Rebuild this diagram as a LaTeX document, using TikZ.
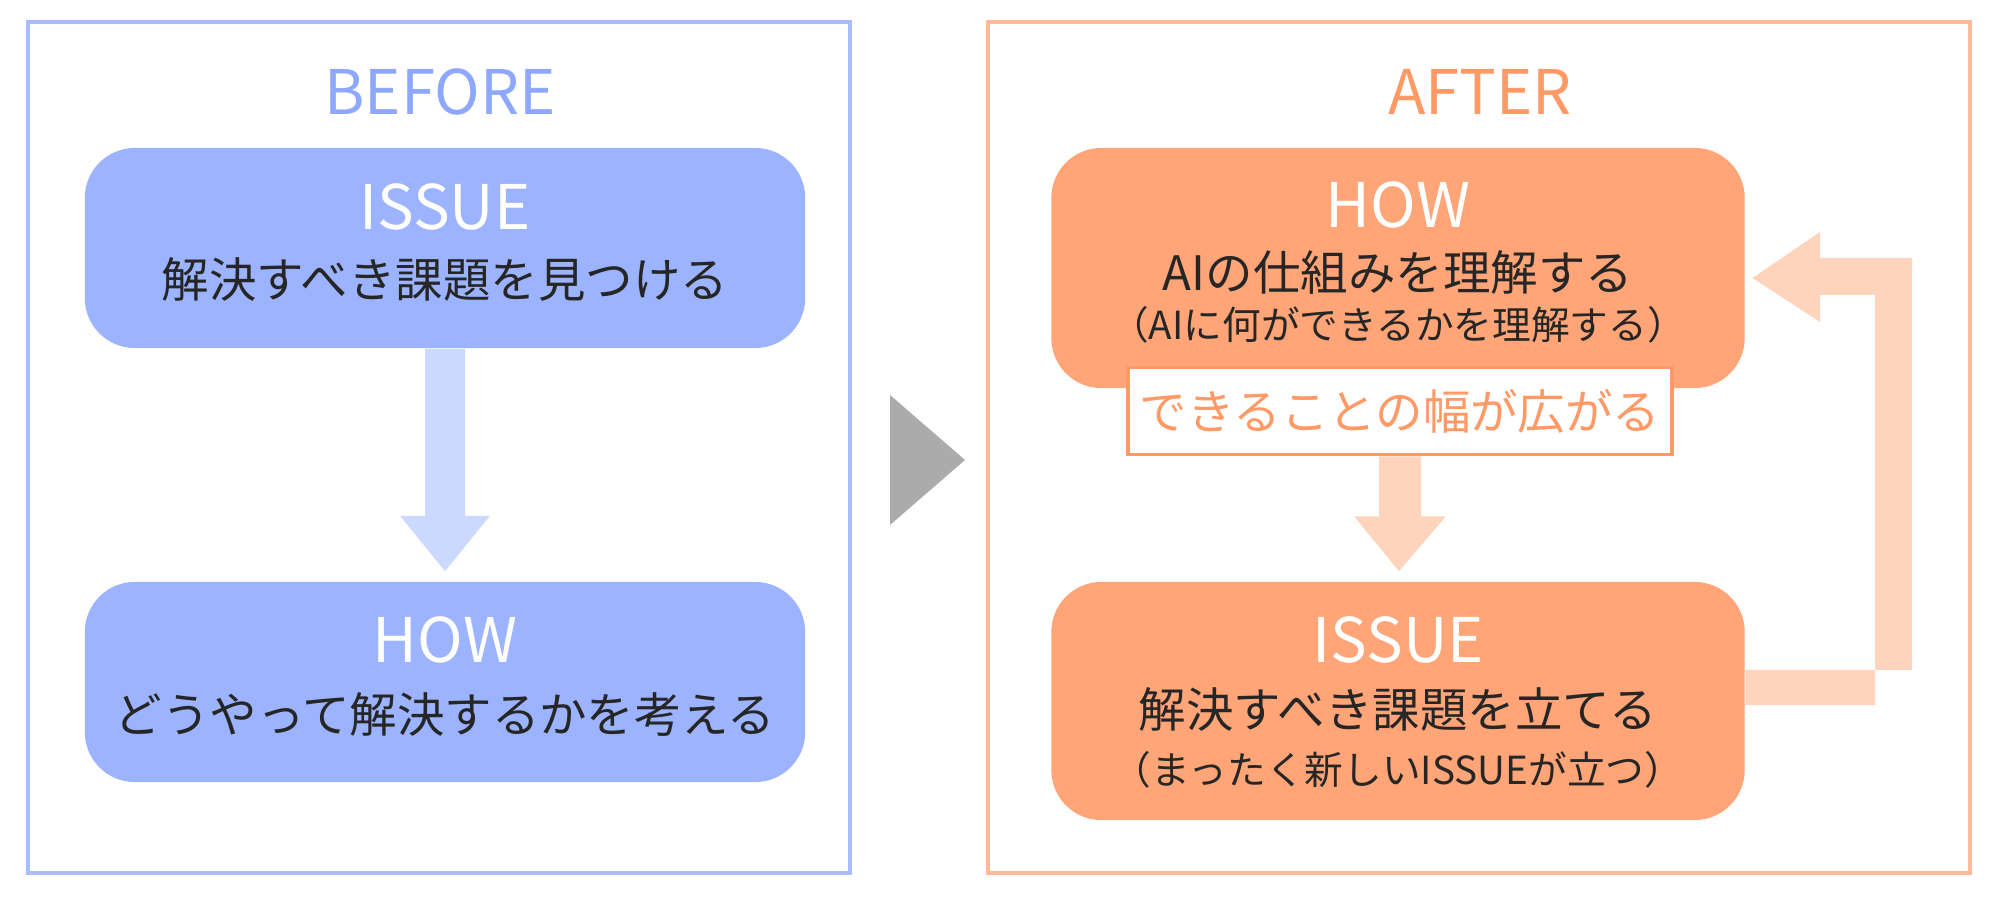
\documentclass[tikz,border=0pt]{standalone}
\usepackage{fontspec}
\setmainfont{Noto Sans CJK JP}
\usetikzlibrary{calc}
\definecolor{bframe}{HTML}{A8BCFF}
\definecolor{btext}{HTML}{8FA8FF}
\definecolor{bbox}{HTML}{9CB4FF}
\definecolor{barrow}{HTML}{CCD9FF}
\definecolor{aframe}{HTML}{FFB899}
\definecolor{atext}{HTML}{FF9966}
\definecolor{abox}{HTML}{FFA577}
\definecolor{aarrow}{HTML}{FFD4BC}
\begin{document}
\begin{tikzpicture}
	[x=0.01cm,y=-0.01cm,
	mybox/.style = {draw=none, rounded corners=0.5cm, align=center, inner sep=0pt},
	bigtxt/.style = {font=\fontsize{17.5}{20}\selectfont},
	midtxt/.style = {font=\fontsize{13.5}{16}\selectfont},
	smalltxt/.style = {font=\fontsize{11}{13}\selectfont}]
	\useasboundingbox (0,0) rectangle (2000,898);
	% frames
	\draw[bframe, line width=1.2pt] (28,22) rectangle (850,873);
	\draw[aframe, line width=1.2pt] (988,22) rectangle (1970,873);
	\node[bigtxt, text=btext, name=before] at (440,92) {BEFORE};
	\node[bigtxt, text=atext, name=after] at (1480,92) {AFTER};
	% left side
	\node[mybox, fill=bbox, minimum width=7.2cm, minimum height=2cm, name=bissue] at (445,248) {};
	\node[bigtxt, text=white] at (445,207) {ISSUE};
	\node[midtxt, text=black!85] at (445,280) {解決すべき課題を見つける};
	\node[mybox, fill=bbox, minimum width=7.2cm, minimum height=2cm, name=bhow] at (445,682) {};
	\node[bigtxt, text=white] at (445,640) {HOW};
	\node[midtxt, text=black!85] at (445,715) {どうやって解決するかを考える};
	\fill[barrow] ($(bissue.south)+(-20,0)$) -- ($(bissue.south)+(20,0)$) -- ++(0,167) -- ++(25,0)
		-- ($(bhow.north)+(0,-10)$) -- ($(bissue.south)+(-45,167)$) -- ++(25,0) -- cycle;
	% middle
	\fill[black!33] (890,395) -- (965,460) -- (890,525) -- cycle;
	% right side
	\node[mybox, fill=abox, minimum width=6.93cm, minimum height=2.4cm, name=ahow] at (1398,268) {};
	\node[bigtxt, text=white] at (1398,205) {HOW};
	\node[midtxt, text=black!85] at (1398,272) {AIの仕組みを理解する};
	\node[smalltxt, text=black!85] at (1398,325) {（AIに何ができるかを理解する）};
	\node[mybox, fill=abox, minimum width=6.93cm, minimum height=2.38cm, name=aissue] at (1398,701) {};
	\node[bigtxt, text=white] at (1398,640) {ISSUE};
	\node[midtxt, text=black!85] at (1398,710) {解決すべき課題を立てる};
	\node[smalltxt, text=black!85] at (1398,770) {（まったく新しいISSUEが立つ）};
	\node[draw=atext, line width=1pt, fill=white, minimum width=4.8cm, minimum height=0.87cm,
		midtxt, text=atext, name=wider] at (1400,411) {できることの幅が広がる};
	\fill[aarrow] ($(wider.south)+(-21,0)$) -- ($(wider.south)+(21,0)$) -- ++(0,60) -- ++(25,0)
		-- ($(aissue.north)+(1,-10)$) -- ($(wider.south)+(-46,60)$) -- ++(25,0) -- cycle;
	% feedback
	\fill[aarrow] ($(aissue.east)+(0,-31)$) -- (1912,670) -- (1912,258) -- (1820,258) -- (1820,232)
		-- ($(ahow.east)+(7,10)$) -- (1820,322) -- (1820,295) -- (1875,295) -- (1875,705)
		-- ($(aissue.east)+(0,4)$) -- cycle;
\end{tikzpicture}
\end{document}
